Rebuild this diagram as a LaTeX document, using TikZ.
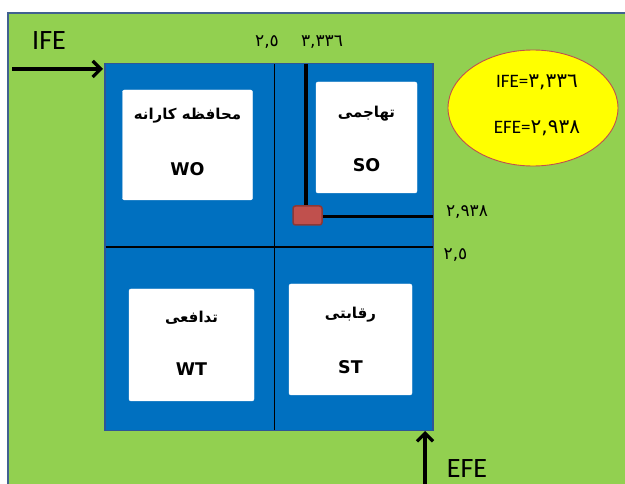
\documentclass[tikz,border=0pt]{standalone}
\usepackage{fontspec}
\setmainfont{Carlito}
\newfontfamily\arabicfont[Script=Arabic]{DejaVu Sans}
\newfontfamily\latinbold{DejaVu Sans}
\TeXXeTstate=1
\usetikzlibrary{arrows.meta}
\definecolor{bggreen}{HTML}{92D050}
\definecolor{bgborder}{HTML}{41618F}
\definecolor{matblue}{HTML}{0070C0}
\definecolor{matborder}{HTML}{2F5597}
\definecolor{ellfill}{HTML}{FFFF00}
\definecolor{ellborder}{HTML}{C0504D}
\definecolor{markfill}{HTML}{C0504D}
\definecolor{markborder}{HTML}{8C3836}
\tikzset{
  whitebox/.style={draw=white, fill=white, rounded corners=2pt, inner sep=0pt},
  fatxt/.style={font=\arabicfont\bfseries\fontsize{15}{17}\selectfont, inner sep=0pt},
  lattxt/.style={font=\latinbold\bfseries\fontsize{17.5}{19}\selectfont, inner sep=0pt},
  numtxt/.style={font=\arabicfont\fontsize{17}{19}\selectfont, inner sep=0pt},
  axistxt/.style={font=\fontsize{28}{30}\selectfont, inner sep=0pt},
  thinline/.style={line width=1.2pt, black},
  thickline/.style={line width=3.4pt, black},
  axisarrow/.style={line width=3.2pt, black, -{Straight Barb[length=8pt, width=16pt, line width=3.2pt]}},
}
\begin{document}
\begin{tikzpicture}[x=1pt, y=-1pt]
\useasboundingbox (0,0) rectangle (625,484);
\clip (0,0) rectangle (625,484);
% background
\fill[white] (0,0) rectangle (625,484);
\draw[fill=bggreen, draw=bgborder, line width=2.4pt] (8,13) rectangle (640,500);
% matrix
\node[draw=matborder, fill=matblue, line width=1.8pt, minimum width=328pt, minimum height=367pt, inner sep=0pt] (mat) at (269,247) {};
\coordinate (vtop) at (274.5,64);
\coordinate (vbot) at (274.5,430);
\coordinate (hleft) at (105.5,247);
\coordinate (hright) at (432.5,247);
\draw[thinline] (vtop) -- (vbot);
\draw[thinline] (hleft) -- (hright);
% boxes
\node[whitebox, minimum width=130pt, minimum height=110pt] (wo) at (187.5,145) {};
\node[fatxt] (wofa) at (187.5,116) {\beginR محافظه کارانه\endR};
\node[lattxt] (wola) at (187.5,169) {WO};
\node[whitebox, minimum width=101pt, minimum height=111pt] (so) at (366.5,137.5) {};
\node[fatxt] (sofa) at (366.5,114) {\beginR تهاجمی\endR};
\node[lattxt] (sola) at (366.5,165) {SO};
\node[whitebox, minimum width=125pt, minimum height=112pt] (wt) at (191.5,345) {};
\node[fatxt] (wtfa) at (191.5,318) {\beginR تدافعی\endR};
\node[lattxt] (wtla) at (191.5,369) {WT};
\node[whitebox, minimum width=123pt, minimum height=111pt] (st) at (350.5,339.5) {};
\node[fatxt] (stfa) at (350.5,315) {\beginR رقابتی\endR};
\node[lattxt] (stla) at (350.5,367) {ST};
% position lines
\coordinate (ptop) at (306,64);
\coordinate (pright) at (432.5,216.5);
\coordinate (pcorner) at (306,216.5);
\draw[thickline] (ptop) -- (pcorner) -- (pright);
\node[draw=markborder, fill=markfill, line width=1.5pt, rounded corners=2.5pt, minimum width=29pt, minimum height=19pt, inner sep=0pt] (pos) at (307.5,215.5) {};
% value labels
\node[numtxt] (ifelow) at (267,42) {٢,٥};
\node[numtxt] (ifeval) at (322,42) {٣,٣٣٦};
\node[numtxt] (efeval) at (467,212) {٢,٩٣٨};
\node[numtxt] (efelow) at (455.5,255) {٢,٥};
% ellipse
\draw[fill=ellfill, draw=ellborder, line width=0.9pt] (533,108) ellipse [x radius=85, y radius=58];
\node[font=\fontsize{19}{21}\selectfont, inner sep=0pt] (ellife) at (537,82) {IFE=\arabicfont\fontsize{20}{22}\selectfont ٣,٣٣٦};
\node[font=\fontsize{19}{21}\selectfont, inner sep=0pt] (ellefe) at (537,128) {EFE=\arabicfont\fontsize{20}{22}\selectfont ٢,٩٣٨};
% axes
\node[axistxt] (ife) at (49,41) {IFE};
\node[axistxt] (efe) at (467,469) {EFE};
\coordinate (ifestart) at (12,69);
\coordinate (ifeend) at (103,69);
\draw[axisarrow] (ifestart) -- (ifeend);
\coordinate (efestart) at (425,490);
\coordinate (efeend) at (425,431);
\draw[axisarrow] (efestart) -- (efeend);
\end{tikzpicture}
\end{document}
